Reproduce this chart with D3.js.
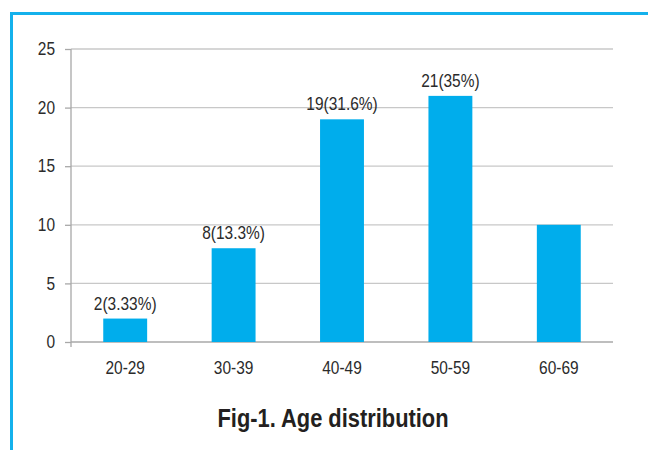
<!DOCTYPE html>
<html>
<head>
<meta charset="utf-8">
<script src="https://cdn.jsdelivr.net/npm/d3@7"></script>
<style>
  html, body { margin: 0; padding: 0; background: #fff; }
  svg { display: block; }
  text { font-family: "Liberation Sans", Arial, sans-serif; }
</style>
</head>
<body>
<svg id="chart" width="648" height="450"></svg>
<script>
// Age groups and patient counts
const ageGroups = ["20-29", "30-39", "40-49", "50-59", "60-69"];
const counts = [2, 8, 19, 21, 10];
const valueLabels = ["2(3.33%)", "8(13.3%)", "19(31.6%)", "21(35%)", ""];
const yTicks = [0, 5, 10, 15, 20, 25];
const title = "Fig-1. Age distribution";

const svg = d3.select("#chart");
const W = 648, H = 450;
const plot = { left: 71, right: 613, top: 49, bottom: 342 };
const barColor = "#00adec";
const frameColor = "#14b1ec";
const axisColor = "#a8a8a8";
const textColor = "#2b2b2b";
const squeeze = 0.86;   // condensed lettering

// Frame: top rule and left rule
svg.append("line")
  .attr("x1", 10).attr("x2", W).attr("y1", 13.5).attr("y2", 13.5)
  .attr("stroke", frameColor).attr("stroke-width", 3);
svg.append("line")
  .attr("x1", 11.5).attr("x2", 11.5).attr("y1", 12).attr("y2", H)
  .attr("stroke", frameColor).attr("stroke-width", 3);

const x = d3.scaleBand()
  .domain(ageGroups)
  .range([plot.left, plot.right])
  .paddingInner(0.595)
  .paddingOuter(0.2975);

const y = d3.scaleLinear()
  .domain([0, 25])
  .range([plot.bottom, plot.top]);

// Horizontal gridlines
svg.append("g")
  .selectAll("line")
  .data(yTicks.filter(d => d > 0))
  .join("line")
  .attr("x1", plot.left).attr("x2", plot.right)
  .attr("y1", d => y(d)).attr("y2", d => y(d))
  .attr("stroke", "#c8c8c8").attr("stroke-width", 1.3);

// Y axis
const yAxis = svg.append("g")
  .attr("transform", `translate(${plot.left},0)`)
  .call(d3.axisLeft(y).tickValues(yTicks).tickSize(6));
yAxis.select(".domain").remove();
yAxis.selectAll(".tick line").attr("stroke", axisColor).attr("stroke-width", 1.3);
yAxis.selectAll("text")
  .attr("font-size", 18)
  .attr("fill", textColor)
  .attr("x", -16 / squeeze)
  .attr("transform", `scale(${squeeze},1)`);
svg.append("line")
  .attr("x1", plot.left).attr("x2", plot.left)
  .attr("y1", plot.top).attr("y2", plot.bottom + 5)
  .attr("stroke", axisColor).attr("stroke-width", 1.3);

// X axis baseline and category labels
const xAxis = svg.append("g")
  .attr("transform", `translate(0,${plot.bottom})`)
  .call(d3.axisBottom(x).tickSize(0).tickPadding(19));
xAxis.select(".domain")
  .attr("d", `M${plot.left},0H${plot.right}`)
  .attr("stroke", axisColor).attr("stroke-width", 1.3);
xAxis.selectAll("text")
  .attr("font-size", 18)
  .attr("fill", textColor)
  .attr("transform", `scale(${squeeze},1)`);

// Bars
svg.append("g")
  .selectAll("rect")
  .data(counts)
  .join("rect")
  .attr("x", (d, i) => x(ageGroups[i]))
  .attr("width", x.bandwidth())
  .attr("y", d => y(d))
  .attr("height", d => y(0) - y(d))
  .attr("fill", barColor);

// Value labels above bars
svg.append("g")
  .selectAll("g")
  .data(counts)
  .join("g")
  .attr("transform", (d, i) =>
    `translate(${x(ageGroups[i]) + x.bandwidth() / 2},${y(d) - 9}) scale(${squeeze},1)`)
  .append("text")
  .attr("text-anchor", "middle")
  .attr("font-size", 18)
  .attr("fill", textColor)
  .text((d, i) => valueLabels[i]);

// Caption
svg.append("g")
  .attr("transform", `translate(333,427) scale(0.875,1)`)
  .append("text")
  .attr("text-anchor", "middle")
  .attr("font-size", 25)
  .attr("font-weight", "bold")
  .attr("fill", "#231f20")
  .text(title);
</script>
</body>
</html>
